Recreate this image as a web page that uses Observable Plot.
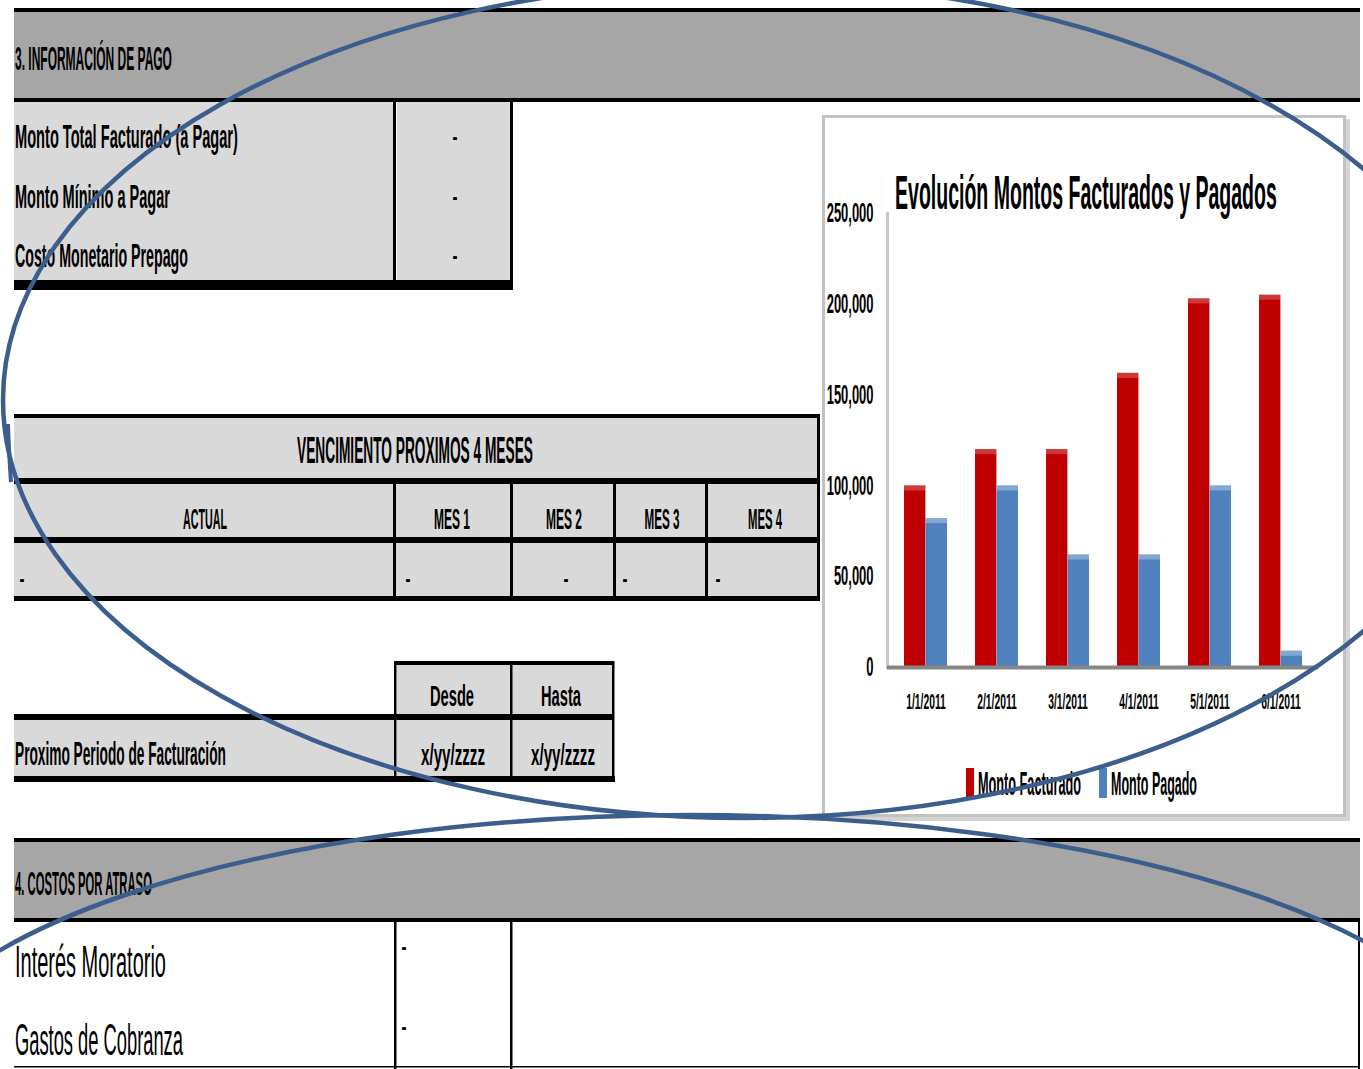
<!DOCTYPE html>
<html>
<head>
<meta charset="utf-8">
<script src="https://cdn.jsdelivr.net/npm/d3@7"></script>
<script src="https://cdn.jsdelivr.net/npm/@observablehq/plot@0.6"></script>
<style>
  html, body { margin: 0; padding: 0; background: #fff; }
  #page { position: relative; width: 1363px; height: 1069px; overflow: hidden; font-family: "Liberation Sans", Arial, sans-serif; }
  #page > svg, #page > div { position: absolute; }
</style>
</head>
<body>
<div id="page"></div>
<script>
// ---- Chart data ----
const fechas = ["1/1/2011", "2/1/2011", "3/1/2011", "4/1/2011", "5/1/2011", "6/1/2011"];
const montoFacturado = [100000, 120000, 120000, 162000, 203000, 205000];
const montoPagado = [82000, 100000, 62000, 62000, 100000, 9000];
const series = ["Monto Facturado", "Monto Pagado"];
const colores = ["#c00000", "#4f81bd"];
const yTicks = [0, 50000, 100000, 150000, 200000, 250000];
const tituloGrafico = "Evolución Montos Facturados y Pagados";

// ---- Sheet texts ----
const seccion3 = "3. INFORMACIÓN DE PAGO";
const infoPago = ["Monto Total Facturado (a Pagar)", "Monto Mínimo a Pagar", "Costo Monetario Prepago"];
const infoPagoValores = ["-", "-", "-"];
const vencimientoTitulo = "VENCIMIENTO PROXIMOS 4 MESES";
const vencimientoCols = ["ACTUAL", "MES 1", "MES 2", "MES 3", "MES 4"];
const vencimientoValores = ["-", "-", "-", "-", "-"];
const periodoCols = ["Desde", "Hasta"];
const periodoFila = "Proximo Periodo de Facturación";
const periodoValores = ["x/yy/zzzz", "x/yy/zzzz"];
const seccion4 = "4. COSTOS POR ATRASO";
const atraso = ["Interés Moratorio", "Gastos de Cobranza"];
const atrasoValores = ["-", "-"];

const page = d3.select("#page");
const BLACK = "#000", DARK = "#a6a6a6", LIGHT = "#d9d9d9";

// ---- Spreadsheet layer ----
const sheet = page.append("svg")
  .attr("width", 1363).attr("height", 1069)
  .style("left", "0px").style("top", "0px");

function box(x, y, w, h, fill) {
  sheet.append("rect").attr("x", x).attr("y", y).attr("width", w).attr("height", h).attr("fill", fill);
}
// Condensed text: squeezed horizontally to the given width
function label(str, x, y, size, len, anchor = "start", weight = "bold") {
  const t = sheet.append("text")
    .attr("font-size", size)
    .attr("font-weight", weight)
    .attr("text-anchor", anchor)
    .attr("fill", "#000")
    .text(str);
  const w = t.node().getComputedTextLength();
  t.attr("transform", `translate(${x},${y}) scale(${len / w},1)`);
}
function dot(x, y) {
  label("-", x, y, 24, 5, "middle");
}

// Section 3 header band
box(14, 8, 1346, 4, BLACK);
box(14, 12, 1346, 86, DARK);
box(14, 98, 1346, 4, BLACK);
label(seccion3, 15, 70, 34, 157);

// Payment info table
box(14, 102, 381, 180, LIGHT);
box(397, 102, 113, 180, LIGHT);
box(393, 102, 3, 180, BLACK);
box(510, 102, 3, 180, BLACK);
box(14, 280, 499, 10, BLACK);
const infoY = [148, 208, 267];
const infoLen = [223, 155, 173];
infoPago.forEach((t, i) => label(t, 15, infoY[i], 34, infoLen[i]));
infoPagoValores.forEach((t, i) => dot(455, infoY[i] - 3));

// Due dates table
box(14, 414, 805, 4, BLACK);
box(14, 418, 804, 60, LIGHT);
box(14, 478, 805, 6, BLACK);
box(14, 484, 804, 53, LIGHT);
box(14, 537, 805, 6, BLACK);
box(14, 543, 804, 53, LIGHT);
box(14, 596, 806, 5, BLACK);
[393, 510, 613, 705].forEach(x => box(x, 478, 3, 122, BLACK));
box(817, 414, 3, 187, BLACK);
label(vencimientoTitulo, 415, 463, 37, 236, "middle");
const colX = [205, 452, 564, 662, 765];
const colLen = [44, 36, 36, 35, 34];
vencimientoCols.forEach((t, i) => label(t, colX[i], 529, 30, colLen[i], "middle"));
const valX = [22, 408, 566, 625, 718];
vencimientoValores.forEach((t, i) => dot(valX[i], 587));

// Next billing period table
box(395, 661, 219, 4, BLACK);
box(397, 665, 113, 50, LIGHT);
box(512, 665, 100, 50, LIGHT);
box(14, 714, 600, 6, BLACK);
box(14, 720, 381, 56, LIGHT);
box(397, 720, 113, 56, LIGHT);
box(512, 720, 100, 56, LIGHT);
[394, 510, 612].forEach(x => box(x, 661, 2.5, 121, BLACK));
box(14, 776, 601, 6, BLACK);
const perX = [452, 561];
periodoCols.forEach((t, i) => label(t, perX[i], 706, 30, [44, 40][i], "middle"));
label(periodoFila, 15, 765, 34, 211);
periodoValores.forEach((t, i) => label(t, [453, 563][i], 765, 30, 64, "middle"));

// Section 4 header band and rows
box(14, 838, 1346, 4, BLACK);
box(14, 842, 1346, 76, DARK);
box(14, 918, 1346, 4, BLACK);
label(seccion4, 15, 895, 34, 137);
box(394, 922, 2.5, 147, BLACK);
box(510, 922, 2.5, 147, BLACK);
box(1358, 922, 2, 147, BLACK);
box(14, 1066, 1346, 1.5, BLACK);
const atrasoY = [977, 1055];
atraso.forEach((t, i) => label(t, 15, atrasoY[i], 44, [151, 168][i], "start", "normal"));
atrasoValores.forEach((t, i) => dot(404, [955, 1035][i]));

// Chart frame, title and legend
sheet.append("rect").attr("x", 826).attr("y", 119).attr("width", 524).attr("height", 702).attr("fill", "#d4d4d4");
sheet.append("rect").attr("x", 823.5).attr("y", 116.5).attr("width", 521).attr("height", 699)
  .attr("fill", "#fff").attr("stroke", "#c2c2c2").attr("stroke-width", 3);
label(tituloGrafico, 895, 209, 49, 382);
const legendX = [966, 1099];
const legendLen = [103, 86];
series.forEach((s, i) => {
  box(legendX[i], 768, 8, 30, colores[i]);
  label(s, legendX[i] + 12, 795, 34, legendLen[i]);
});

// ---- Bar chart ----
const rows = fechas.flatMap((f, i) => [
  {fecha: f, serie: series[0], monto: montoFacturado[i]},
  {fecha: f, serie: series[1], monto: montoPagado[i]}
]);
const facturado = rows.filter(d => d.serie === series[0]);
const pagado = rows.filter(d => d.serie === series[1]);
const half = 21.6;   // half of each date band: one column per series
const cap = 2800;    // lighter top edge of each column

const chart = Plot.plot({
  width: 528,
  height: 640,
  marginLeft: 65,
  marginRight: 32,
  marginTop: 98,
  marginBottom: 88,
  style: {background: "transparent", color: "#000", fontFamily: "'Liberation Sans', Arial, sans-serif", fontWeight: "bold", overflow: "visible"},
  x: {domain: fechas, paddingInner: 0.4, paddingOuter: 0.2},
  y: {domain: [0, 250000]},
  marks: [
    Plot.frame({anchor: "left", stroke: "#c8c8c8", strokeWidth: 3}),
    Plot.barY(facturado, {x: "fecha", y: "monto", fill: colores[0], insetRight: half}),
    Plot.barY(pagado, {x: "fecha", y: "monto", fill: colores[1], insetLeft: half}),
    Plot.barY(facturado, {x: "fecha", y1: d => d.monto - cap, y2: "monto", fill: "#fff", fillOpacity: 0.22, insetRight: half}),
    Plot.barY(pagado, {x: "fecha", y1: d => d.monto - cap, y2: "monto", fill: "#fff", fillOpacity: 0.3, insetLeft: half}),
    Plot.ruleY([0], {stroke: "#868686", strokeWidth: 4}),
    Plot.axisX({tickSize: 0, tickPadding: 26, fontSize: 22, label: null}),
    Plot.axisY({ticks: yTicks, tickFormat: d3.format(","), tickSize: 0, tickPadding: 14, fontSize: 27, label: null})
  ]
});

const holder = page.append("div").style("left", "822px").style("top", "115px");
holder.node().appendChild(chart);

// Condensed tick labels: squeeze each label around its own anchor point
function condense(selector, k) {
  d3.select(chart).selectAll(selector).each(function () {
    const tr = this.getAttribute("transform");
    if (tr) this.setAttribute("transform", `${tr} scale(${k},1)`);
    else {
      this.setAttribute("textLength", this.getComputedTextLength() * k);
      this.setAttribute("lengthAdjust", "spacingAndGlyphs");
    }
  });
}
condense("g[aria-label='x-axis tick label'] text", 0.47);
condense("g[aria-label='y-axis tick label'] text", 0.48);

// ---- Pen ellipses drawn over the sheet ----
const ink = page.append("svg")
  .attr("width", 1363).attr("height", 1069)
  .style("left", "0px").style("top", "0px").style("pointer-events", "none");
ink.append("ellipse").attr("cx", 745).attr("cy", 400).attr("rx", 742).attr("ry", 418)
  .attr("fill", "none").attr("stroke", "#3b5e8d").attr("stroke-width", 4.5);
ink.append("path").attr("d", "M8,424 Q9,455 11,482")
  .attr("fill", "none").attr("stroke", "#3b5e8d").attr("stroke-width", 4);
ink.append("ellipse").attr("cx", 690).attr("cy", 1089).attr("rx", 800).attr("ry", 274)
  .attr("fill", "none").attr("stroke", "#3b5e8d").attr("stroke-width", 4.5);
</script>
</body>
</html>
